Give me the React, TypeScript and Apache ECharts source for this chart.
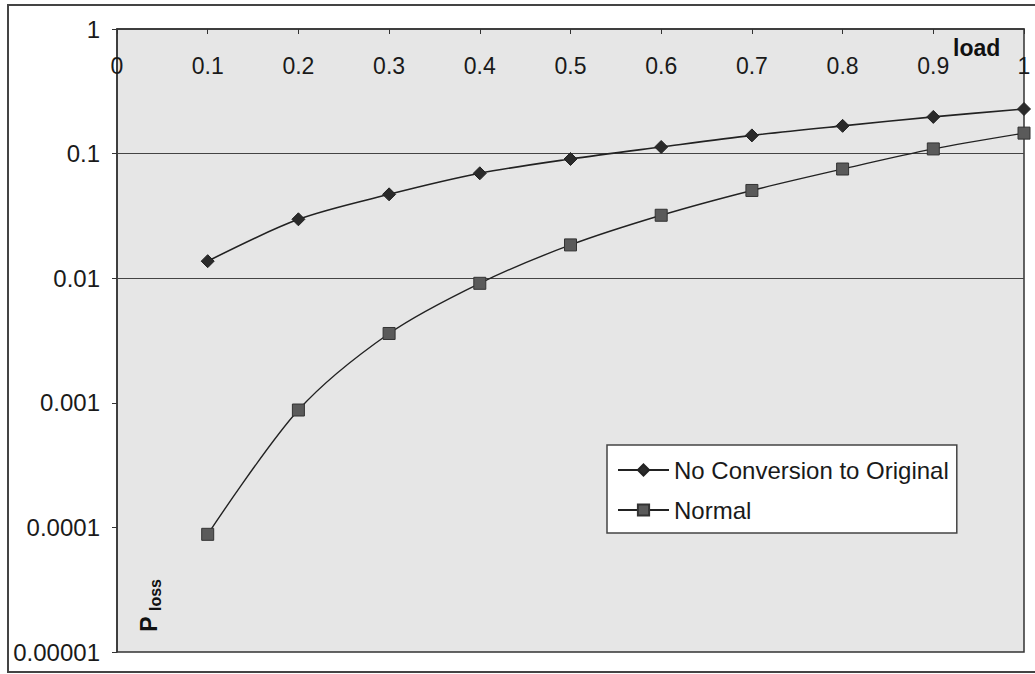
import React, { useEffect, useRef } from "react";
import * as echarts from "echarts";

const loads = [0.1, 0.2, 0.3, 0.4, 0.5, 0.6, 0.7, 0.8, 0.9, 1.0];
const noConversion = [0.0137, 0.0297, 0.0471, 0.0695, 0.0905, 0.113, 0.14, 0.167, 0.197, 0.228];
const normal = [0.000088, 0.000875, 0.0036, 0.0091, 0.0185, 0.032, 0.0506, 0.0752, 0.109, 0.146];
const seriesNames = ["No Conversion to Original", "Normal"];
const yTickLabels: Record<string, string> = {
  "1": "1",
  "0.1": "0.1",
  "0.01": "0.01",
  "0.001": "0.001",
  "0.0001": "0.0001",
  "0.00001": "0.00001",
};
const gridValues = [0.1, 0.01, 0.001];

const FONT = "Liberation Sans, Arial, sans-serif";

export default function App() {
  const ref = useRef<HTMLDivElement>(null);
  useEffect(() => {
    if (!ref.current) return;
    const chart = echarts.init(ref.current, undefined, { renderer: "svg" });
    const fmtY = (v: number) => {
      const e = Math.round(Math.log10(v));
      const key = e === 0 ? "1" : "0." + "0".repeat(-e - 1) + "1";
      return yTickLabels[key] ?? key;
    };
    chart.setOption({
      animation: false,
      backgroundColor: "#ffffff",
      grid: {
        left: 117,
        top: 29,
        right: 11,
        bottom: 22,
        show: true,
        backgroundColor: "#e6e6e6",
        borderColor: "#333",
        borderWidth: 1.5,
      },
      xAxis: {
        type: "value",
        position: "top",
        min: 0,
        max: 1,
        interval: 0.1,
        axisLine: { show: true, lineStyle: { color: "#333", width: 1.5 } },
        axisTick: { show: true, inside: true, length: 5, lineStyle: { color: "#333" } },
        axisLabel: {
          inside: true,
          margin: 25,
          fontSize: 23,
          color: "#1a1a1a",
          fontFamily: FONT,
          formatter: (v: number) => String(Math.round(v * 10) / 10),
        },
        splitLine: { show: false },
      },
      yAxis: {
        type: "log",
        logBase: 10,
        min: 0.00001,
        max: 1,
        axisLine: { show: true, lineStyle: { color: "#333", width: 1.5 } },
        axisTick: { show: true, inside: false, length: 5, lineStyle: { color: "#333" } },
        axisLabel: {
          margin: 17,
          fontSize: 24,
          color: "#1a1a1a",
          fontFamily: FONT,
          formatter: fmtY,
        },
        splitLine: { show: false },
        minorTick: { show: false },
      },
      legend: {
        orient: "vertical",
        left: 607,
        top: 445,
        backgroundColor: "#ffffff",
        borderColor: "#444",
        borderWidth: 1.5,
        padding: [12, 8, 10, 10],
        itemWidth: 51,
        itemHeight: 14,
        itemGap: 14,
        textStyle: { fontSize: 24, color: "#1a1a1a", fontFamily: FONT, lineHeight: 26 },
        data: seriesNames,
      },
      series: [
        {
          name: seriesNames[0],
          type: "line",
          data: loads.map((x, i) => [x, noConversion[i]]),
          smooth: 0.3,
          symbol: "diamond",
          symbolSize: 13,
          lineStyle: { color: "#222", width: 1.6 },
          itemStyle: { color: "#2a2a2a", borderColor: "#222", borderWidth: 1 },
          z: 3,
        },
        {
          name: seriesNames[1],
          type: "line",
          data: loads.map((x, i) => [x, normal[i]]),
          smooth: 0.3,
          symbol: "rect",
          symbolSize: 12,
          lineStyle: { color: "#222", width: 1.4 },
          itemStyle: { color: "#5a5a5a", borderColor: "#333", borderWidth: 1 },
          z: 3,
          markLine: {
            silent: true,
            symbol: "none",
            label: { show: false },
            lineStyle: { color: "#444", width: 1.2, type: "solid" },
            data: gridValues.map((v) => ({ yAxis: v })),
            z: 1,
          },
        },
      ],
      graphic: [
        {
          type: "rect",
          shape: { x: 8, y: 5, width: 1040, height: 667 },
          style: { fill: "none", stroke: "#444", lineWidth: 2 },
          silent: true,
          z: 10,
        },
        {
          type: "text",
          x: 953,
          y: 48,
          style: {
            text: "load",
            font: `bold 23px ${FONT}`,
            fill: "#111",
            verticalAlign: "middle",
          },
          z: 20,
        },
        {
          type: "text",
          x: 149,
          y: 624,
          rotation: Math.PI / 2,
          style: {
            text: "P",
            font: `bold 23px ${FONT}`,
            fill: "#111",
            align: "center",
            verticalAlign: "middle",
          },
          z: 20,
        },
        {
          type: "text",
          x: 155,
          y: 595,
          rotation: Math.PI / 2,
          style: {
            text: "loss",
            font: `bold 16px ${FONT}`,
            fill: "#111",
            align: "center",
            verticalAlign: "middle",
          },
          z: 20,
        },
      ],
    });
    return () => chart.dispose();
  }, []);
  return (
    <div
      ref={ref}
      style={{ position: "absolute", left: 0, top: 0, width: 1035, height: 674 }}
    />
  );
}
